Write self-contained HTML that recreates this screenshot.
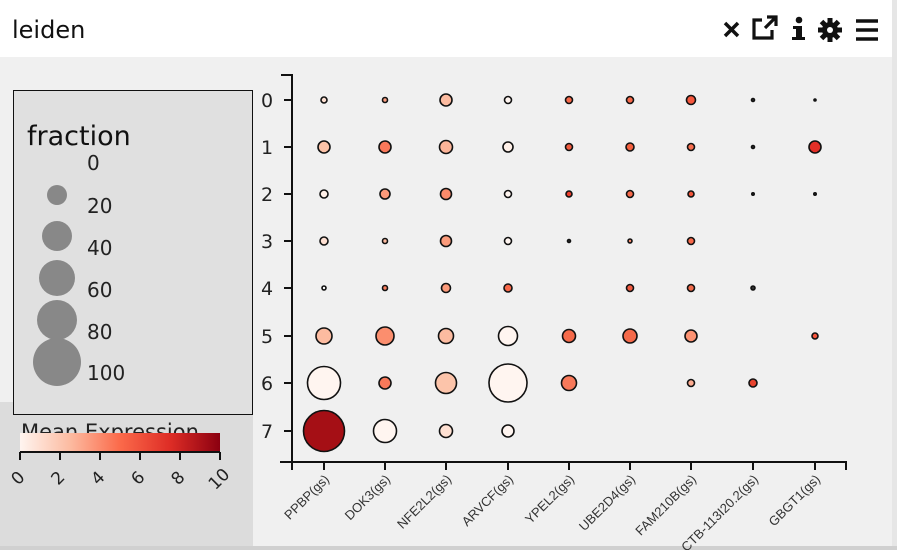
<!DOCTYPE html><html><head><meta charset="utf-8"><style>
body{margin:0;width:897px;height:550px;overflow:hidden;background:#fff;font-family:"Liberation Sans",sans-serif}
</style></head><body>
<svg width="897" height="550" xmlns="http://www.w3.org/2000/svg" style="position:absolute;left:0;top:0">
<rect x="0" y="0" width="897" height="550" fill="#fff"/>
<rect x="0" y="57" width="892" height="493" fill="#f0f0f0"/>
<rect x="892" y="0" width="5" height="550" fill="#e6e6e6"/>
<rect x="0" y="546" width="897" height="4" fill="#d0d0d0"/>
<text x="12" y="38" font-size="24" fill="#111" font-family="DejaVu Sans, sans-serif">leiden</text>
<g stroke="#111" stroke-width="3.5" fill="none">
<path d="M725 23l13 13M738 23l-13 13"/>
<path d="M762 20h-8v18h18v-8" stroke-width="3.2"/><path d="M767 17h9v9M776 17l-11 11" stroke-width="3.2"/>
<path d="M856 21h22M856 30h22M856 39h22"/>
</g>
<rect x="796" y="26" width="6" height="13" fill="#111"/><rect x="793" y="26" width="6" height="3" fill="#111"/><rect x="792" y="37" width="13" height="3" fill="#111"/><circle cx="799" cy="20" r="3.3" fill="#111"/>
<g fill="#111"><circle cx="830" cy="30" r="8"/>
<g stroke="#111" stroke-width="5"><path d="M830 18v24M818 30h24M821.5 21.5l17 17M838.5 21.5l-17 17"/></g>
<circle cx="830" cy="30" r="3" fill="#fff"/></g>
<rect x="0" y="402" width="253" height="144" fill="#dcdcdc"/>
<rect x="13.5" y="90.5" width="239" height="324" fill="#e0e0e0" stroke="#111" stroke-width="1"/>
<text x="27" y="145" font-size="27" fill="#111" font-family="DejaVu Sans, sans-serif">fraction</text>
<g fill="#888"><circle cx="57" cy="195" r="10"/><circle cx="57" cy="236" r="15"/><circle cx="57" cy="278" r="18"/><circle cx="57" cy="320" r="20"/><circle cx="57" cy="362" r="24"/></g>
<g font-size="20" fill="#222" font-family="DejaVu Sans, sans-serif">
<text x="87" y="170">0</text><text x="87" y="213">20</text><text x="87" y="255">40</text><text x="87" y="297">60</text><text x="87" y="339">80</text><text x="87" y="380">100</text></g>
<text x="21" y="439" font-size="21" fill="#222" font-family="DejaVu Sans, sans-serif">Mean Expression</text>
<defs><linearGradient id="g"><stop offset="0" stop-color="#fff5f0"/><stop offset=".25" stop-color="#fcbba1"/><stop offset=".5" stop-color="#fb6a4a"/><stop offset=".75" stop-color="#de2d26"/><stop offset="1" stop-color="#8b0010"/></linearGradient></defs>
<rect x="20" y="433" width="200" height="19" fill="url(#g)"/>
<g stroke="#111" stroke-width="2"><path d="M20 452h200M20 452v8M60 452v8M100 452v8M140 452v8M180 452v8M220 452v8"/></g>
<g font-size="17" fill="#222" font-family="DejaVu Sans, sans-serif" text-anchor="middle">
<text transform="translate(22,482) rotate(-45)">0</text><text transform="translate(62,482) rotate(-45)">2</text><text transform="translate(102,482) rotate(-45)">4</text><text transform="translate(142,482) rotate(-45)">6</text><text transform="translate(182,482) rotate(-45)">8</text><text transform="translate(223,483) rotate(-45)">10</text></g>
<g stroke="#111" stroke-width="2" fill="none">
<path d="M281 75h11V462"/><path d="M280 462h566v8M292 462v8"/>
<path d="M284 100h8M284 147h8M284 194h8M284 241h8M284 288h8M284 336h8M284 383h8M284 431h8"/>
<path d="M324 462v8M385 462v8M446 462v8M508 462v8M569 462v8M630 462v8M691 462v8M753 462v8M815 462v8"/>
</g>
<g font-size="19" fill="#222" font-family="DejaVu Sans, sans-serif">
<text x="261" y="107">0</text><text x="261" y="154">1</text><text x="261" y="201">2</text><text x="261" y="248">3</text><text x="261" y="295">4</text><text x="261" y="343">5</text><text x="261" y="390">6</text><text x="261" y="438">7</text></g>
<g font-size="13" fill="#333" text-anchor="end">
<text transform="translate(330,480) rotate(-45)">PPBP(gs)</text>
<text transform="translate(391,480) rotate(-45)">DOK3(gs)</text>
<text transform="translate(452,480) rotate(-45)">NFE2L2(gs)</text>
<text transform="translate(514,480) rotate(-45)">ARVCF(gs)</text>
<text transform="translate(575,480) rotate(-45)">YPEL2(gs)</text>
<text transform="translate(636,480) rotate(-45)">UBE2D4(gs)</text>
<text transform="translate(697,480) rotate(-45)">FAM210B(gs)</text>
<text transform="translate(759,480) rotate(-45)">CTB-113I20.2(gs)</text>
<text transform="translate(821,480) rotate(-45)">GBGT1(gs)</text></g>
<g stroke="#111" stroke-width="1.6">
<circle cx="324" cy="100" r="3" fill="#fde0d2"/><circle cx="385" cy="100" r="2.5" fill="#fca082"/><circle cx="446" cy="100" r="6" fill="#fcbba0"/><circle cx="508" cy="100" r="3.5" fill="#fff5f0"/><circle cx="569" cy="100" r="3.5" fill="#f8694a"/><circle cx="630" cy="100" r="3.5" fill="#f8694a"/><circle cx="691" cy="100" r="4.5" fill="#f6583e"/><circle cx="753" cy="100" r="1.5" fill="#333"/><circle cx="815" cy="100" r="1" fill="#333"/>
<circle cx="324" cy="147" r="6" fill="#fcc3a8"/><circle cx="385" cy="147" r="6" fill="#f9785a"/><circle cx="446" cy="147" r="6.5" fill="#fcb498"/><circle cx="508" cy="147" r="5" fill="#fff0e8"/><circle cx="569" cy="147" r="3.5" fill="#f05b3f"/><circle cx="630" cy="147" r="4" fill="#f4613f"/><circle cx="691" cy="147" r="3.5" fill="#f86f4f"/><circle cx="753" cy="147" r="1.5" fill="#333"/><circle cx="815" cy="147" r="6" fill="#e32f27"/>
<circle cx="324" cy="194" r="4" fill="#fff0e8"/><circle cx="385" cy="194" r="5" fill="#fc9a7a"/><circle cx="446" cy="194" r="5.5" fill="#fb8b6b"/><circle cx="508" cy="194" r="3.5" fill="#fff5f0"/><circle cx="569" cy="194" r="3" fill="#ee3f2d"/><circle cx="630" cy="194" r="3.5" fill="#f6694a"/><circle cx="691" cy="194" r="3" fill="#f2553a"/><circle cx="753" cy="194" r="1.2" fill="#333"/><circle cx="815" cy="194" r="1.2" fill="#333"/>
<circle cx="324" cy="241" r="4" fill="#fee0d2"/><circle cx="385" cy="241" r="2.5" fill="#fcbba0"/><circle cx="446" cy="241" r="5.5" fill="#fb9b7b"/><circle cx="508" cy="241" r="3.5" fill="#fff5f0"/><circle cx="569" cy="241" r="1.5" fill="#333"/><circle cx="630" cy="241" r="2" fill="#f58a6b"/><circle cx="691" cy="241" r="3.5" fill="#f8694a"/>
<circle cx="324" cy="288" r="2" fill="#fff"/><circle cx="385" cy="288" r="2.5" fill="#fb8060"/><circle cx="446" cy="288" r="4.5" fill="#fb9a7a"/><circle cx="508" cy="288" r="4" fill="#f8694a"/><circle cx="630" cy="288" r="3.5" fill="#f05a40"/><circle cx="691" cy="288" r="3.5" fill="#f06a4a"/><circle cx="753" cy="288" r="2" fill="#333"/>
<circle cx="324" cy="336" r="8" fill="#fcbba0"/><circle cx="385" cy="336" r="9" fill="#fb8e6e"/><circle cx="446" cy="336" r="7.5" fill="#fcbba0"/><circle cx="508" cy="336" r="9.5" fill="#fff5f0"/><circle cx="569" cy="336" r="6.5" fill="#f56a4a"/><circle cx="630" cy="336" r="7" fill="#f56a4a"/><circle cx="691" cy="336" r="6" fill="#fc9272"/><circle cx="815" cy="336" r="3" fill="#f6553c"/>
<circle cx="324" cy="383" r="16.5" fill="#fff5f0"/><circle cx="385" cy="383" r="6" fill="#f8795a"/><circle cx="446" cy="383" r="10.5" fill="#fcc4aa"/><circle cx="508" cy="383" r="19" fill="#fff5f0"/><circle cx="569" cy="383" r="7.5" fill="#f8795a"/><circle cx="691" cy="383" r="3.5" fill="#fcab90"/><circle cx="753" cy="383" r="4" fill="#e8442f"/>
<circle cx="324" cy="431" r="20.5" fill="#a50f15"/><circle cx="385" cy="431" r="11.5" fill="#fff5f0"/><circle cx="446" cy="431" r="6.5" fill="#fee0d2"/><circle cx="508" cy="431" r="6" fill="#fff5f0"/>
</g>
</svg>
</body></html>
